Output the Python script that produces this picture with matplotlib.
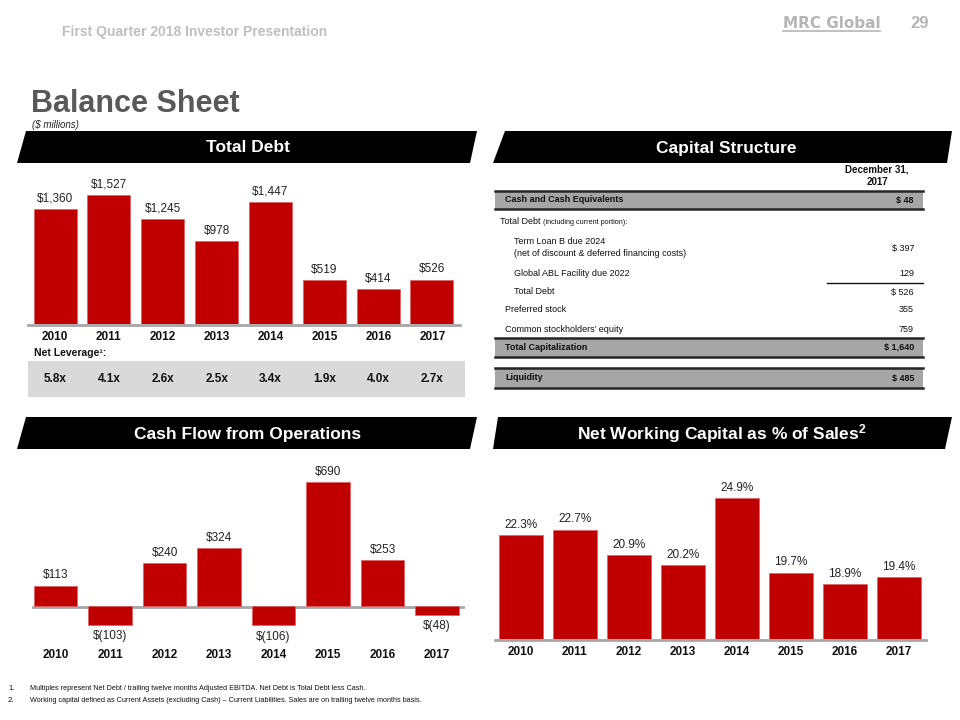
import matplotlib
matplotlib.use('Agg')
import matplotlib.pyplot as plt
from matplotlib.patches import Polygon, Rectangle
from matplotlib import font_manager
import numpy as np

# font: narrow if available
names = set(f.name for f in font_manager.fontManager.ttflist)
FONT = 'Liberation Sans Narrow' if 'Liberation Sans Narrow' in names else 'Liberation Sans'
plt.rcParams['font.family'] = [FONT, 'DejaVu Sans']
plt.rcParams['mathtext.default'] = 'regular'

W, H = 960, 720
RED = '#c00000'
INK = '#111111'

years = ['2010', '2011', '2012', '2013', '2014', '2015', '2016', '2017']
total_debt = [1360, 1527, 1245, 978, 1447, 519, 414, 526]
net_leverage = ['5.8x', '4.1x', '2.6x', '2.5x', '3.4x', '1.9x', '4.0x', '2.7x']
cash_flow = [113, -103, 240, 324, -106, 690, 253, -48]
nwc_pct = [22.3, 22.7, 20.9, 20.2, 24.9, 19.7, 18.9, 19.4]

cap_rows = [
    ('Cash and Cash Equivalents', '$ 48', 'band'),
    ('Total Debt', '', 'head'),
    ('Term Loan B due 2024\n(net of discount & deferred financing costs)', '$ 397', 'sub'),
    ('Global ABL Facility due 2022', '129', 'sub'),
    ('Total Debt', '$ 526', 'sub'),
    ('Preferred stock', '355', 'item'),
    ("Common stockholders\u2019 equity", '759', 'item'),
    ('Total Capitalization', '$ 1,640', 'band'),
    ('Liquidity', '$ 485', 'band'),
]
cap_y = [200, 222, 248, 273, 292, 310, 329, 347, 378]

fig = plt.figure(figsize=(W / 100, H / 100), dpi=100)
fig.patch.set_facecolor('white')
bg = fig.add_axes([0, 0, 1, 1])
bg.set_xlim(0, W)
bg.set_ylim(H, 0)
bg.axis('off')


def px_axes(x0, y0, x1, y1):
    return fig.add_axes([x0 / W, 1 - y1 / H, (x1 - x0) / W, (y1 - y0) / H])


def banner(xtl, xtr, xbr, xbl, yt, yb, text):
    bg.add_patch(Polygon([(xtl, yt), (xtr, yt), (xbr, yb), (xbl, yb)],
                         closed=True, color='black', lw=0))
    bg.text((xtl + xbr) / 2, (yt + yb) / 2 + 1, text, color='white', fontsize=12.5,
            fontweight='bold', ha='center', va='center')


# header
bg.text(62, 32, 'First Quarter 2018 Investor Presentation', color='#bfbfbf',
        fontsize=10, fontweight='bold', va='center')
bg.text(783, 24, 'MRC Global', color='#b5b5b5', fontsize=11, fontweight='bold',
        va='center', family=['DejaVu Sans'])
bg.plot([783, 880], [31, 31], color='#b5b5b5', lw=1.2)
bg.text(910, 24, '29', color='#b5b5b5', fontsize=12, fontweight='bold', va='center')
bg.text(31, 112, 'Balance Sheet', color='#595959', fontsize=22, fontweight='bold',
        va='baseline')
bg.text(32, 124.5, '($ millions)', color='#222222', fontsize=7, style='italic',
        va='center')

banner(26, 477, 470, 17, 131, 163, 'Total Debt')
banner(505, 952, 947, 493, 131, 163, 'Capital Structure')
banner(26, 477, 470, 17, 417, 449, 'Cash Flow from Operations')
banner(498, 952, 945, 493, 417, 449, 'Net Working Capital as % of Sales$^{2}$')

x = np.arange(len(years))

# ---- Total Debt
ax1 = px_axes(25, 170, 462, 324)
ax1.bar(x, total_debt, width=0.8, color=RED, edgecolor='#e06060', lw=0.5)
ax1.set_xlim(-0.56, 7.56)
ax1.set_ylim(0, 1823)
ax1.axis('off')
for i, v in enumerate(total_debt):
    ax1.annotate('${:,}'.format(v), (i, v), xytext=(0, 3), textcoords='offset points',
                 ha='center', va='bottom', fontsize=8.5, color='#222222')
bg.plot([28, 460], [324.5, 324.5], color='#a6a6a6', lw=2)
for i, y in enumerate(years):
    bg.text(55 + i * 53.9, 337, y, ha='center', va='center', fontsize=8.5,
            fontweight='bold', color=INK)
bg.text(34, 353, 'Net Leverage\u00b9:', fontsize=7.5, fontweight='bold', va='center',
        color=INK)
bg.add_patch(Rectangle((28, 361), 437, 36, color='#d9d9d9', lw=0))
lev = px_axes(25, 361, 462, 397)
lev.set_xlim(-0.56, 7.56)
lev.set_ylim(0, 1)
lev.axis('off')
for i, s in enumerate(net_leverage):
    lev.text(i, 0.5, s, ha='center', va='center', fontsize=8.5, fontweight='bold',
             color=INK)

# ---- Capital Structure table
bg.text(877, 169, 'December 31,', ha='center', va='center', fontsize=7,
        fontweight='bold', color=INK)
bg.text(877, 182, '2017', ha='center', va='center', fontsize=7,
        fontweight='bold', color=INK)
bands = {200: (191, 209), 347: (338, 357), 378: (368, 388)}
FS = 6.5
for (label, val, kind), yy in zip(cap_rows, cap_y):
    if kind == 'band':
        y0, y1 = bands[yy]
        bg.add_patch(Rectangle((495, y0), 428, y1 - y0, color='#a6a6a6', lw=0))
        bg.plot([495, 923], [y0, y0], color='#262626', lw=1.8)
        bg.plot([495, 923], [y1, y1], color='#262626', lw=1.8)
        bg.text(505, yy, label, fontsize=FS, fontweight='bold', va='center', color=INK)
        bg.text(914, yy, val, fontsize=FS, fontweight='bold', va='center',
                ha='right', color=INK)
    elif kind == 'head':
        t = bg.text(500, yy, label + ' ', fontsize=FS, va='center', color=INK)
        bg.annotate('(including current portion):', xy=(1, 0.5), xycoords=t,
                    va='center', ha='left', fontsize=5.2, color=INK)
    else:
        xl = 514 if kind == 'sub' else 505
        if '\n' in label:
            a, b = label.split('\n')
            bg.text(xl, yy - 6, a, fontsize=FS, va='center', color=INK)
            bg.text(xl, yy + 6, b, fontsize=FS, va='center', color=INK)
        else:
            bg.text(xl, yy, label, fontsize=FS, va='center', color=INK)
        bg.text(914, yy, val, fontsize=FS, va='center', ha='right', color=INK)
bg.plot([827, 923], [283, 283], color=INK, lw=1)

# ---- Cash Flow from Operations
ax2 = px_axes(25, 455, 466, 640)
ax2.bar(x, cash_flow, width=0.8, color=RED, edgecolor='#e06060', lw=0.5)
ax2.set_xlim(-0.56, 7.53)
ax2.set_ylim(-189, 839)
ax2.axis('off')
for i, v in enumerate(cash_flow):
    if v >= 0:
        ax2.annotate('${}'.format(v), (i, v), xytext=(0, 3), textcoords='offset points',
                     ha='center', va='bottom', fontsize=8.5, color='#222222')
    else:
        ax2.annotate('$({})'.format(-v), (i, v), xytext=(0, -4),
                     textcoords='offset points', ha='center', va='top', fontsize=8.5,
                     color='#222222')
bg.plot([33, 463], [606.5, 606.5], color='#a6a6a6', lw=2)
for i, y in enumerate(years):
    bg.text(55.5 + i * 54.5, 655, y, ha='center', va='center', fontsize=8.5,
            fontweight='bold', color=INK)

# ---- Net Working Capital
ax3 = px_axes(494, 470, 926, 639)
ax3.bar(x, nwc_pct, width=0.81, color=RED, edgecolor='#e06060', lw=0.5)
ax3.set_xlim(-0.5, 7.5)
ax3.set_ylim(15.06, 15.06 + 169 / 14.33)
ax3.axis('off')
for i, v in enumerate(nwc_pct):
    ax3.annotate('{:.1f}%'.format(v), (i, v), xytext=(0, 3), textcoords='offset points',
                 ha='center', va='bottom', fontsize=8.5, color='#222222')
bg.plot([495, 926], [639.5, 639.5], color='#a6a6a6', lw=2)
for i, y in enumerate(years):
    bg.text(521 + i * 54, 652, y, ha='center', va='center', fontsize=8.5,
            fontweight='bold', color=INK)

# footnotes
bg.text(8, 688, '1.', fontsize=5.5, va='center', color=INK)
bg.text(30, 688, 'Multiples represent Net Debt / trailing twelve months Adjusted EBITDA. '
        'Net Debt is Total Debt less Cash.', fontsize=5.2, va='center', color=INK)
bg.text(8, 701, '2.', fontsize=5.5, va='center', color=INK)
bg.text(30, 701, 'Working capital defined as Current Assets (excluding Cash) \u2013 Current '
        'Liabilities. Sales are on trailing twelve months basis.', fontsize=5.2,
        va='center', color=INK)

fig.savefig('out.png', dpi=100)
